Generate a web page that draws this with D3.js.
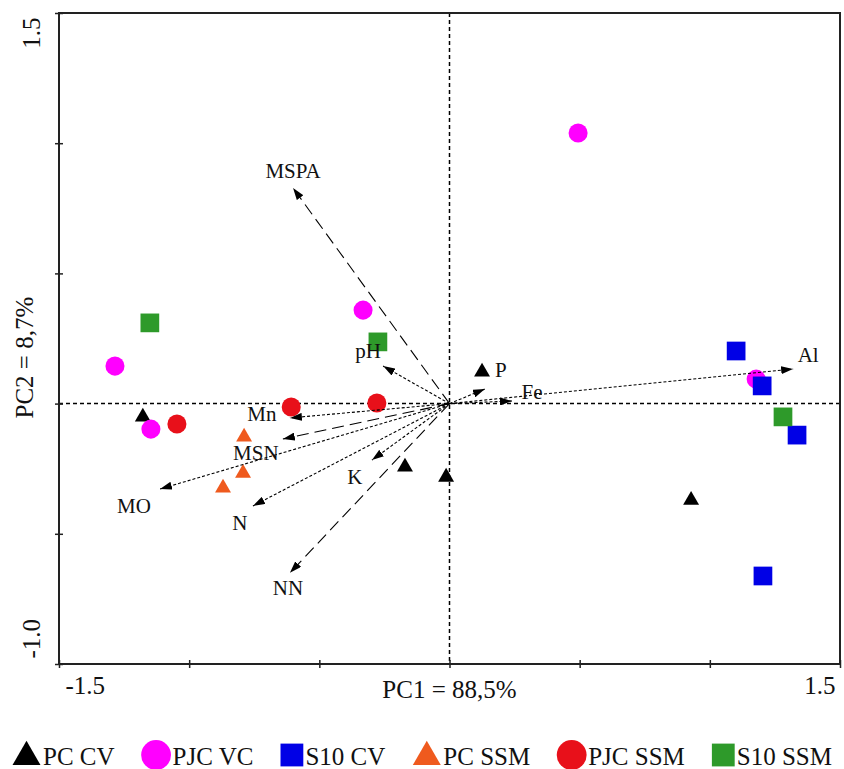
<!DOCTYPE html>
<html>
<head>
<meta charset="utf-8">
<script src="https://cdn.jsdelivr.net/npm/d3@7"></script>
<style>
  body { margin: 0; background: #fff; }
  text { font-family: "Liberation Serif", "Times New Roman", serif; fill: #111; }
</style>
</head>
<body>
<div class="layout"></div>
<script>
// PCA scores per group [PC1, PC2]
var groups = ["PC CV", "PJC VC", "S10 CV", "PC SSM", "PJC SSM", "S10 SSM"];
var pcCV   = [[-1.178, -0.051], [-0.171, -0.243], [-0.013, -0.282], [0.928, -0.371], [0.125, 0.122]];
var pjcVC  = [[0.494, 1.039], [-0.332, 0.359], [-1.285, 0.144], [-1.147, -0.098], [1.178, 0.094]];
var s10CV  = [[1.101, 0.202], [1.201, 0.068], [1.335, -0.121], [1.204, -0.662]];
var pcSSM  = [[-0.789, -0.128], [-0.793, -0.267], [-0.870, -0.324]];
var pjcSSM = [[-0.608, -0.013], [-0.279, 0.002], [-1.047, -0.078]];
var s10SSM = [[-1.151, 0.310], [-0.275, 0.237], [1.281, -0.051]];
var scores = [pcCV, pjcVC, s10CV, pcSSM, pjcSSM, s10SSM];

// variable loadings (arrows)
var variables = ["MSPA", "pH", "Mn", "MSN", "MO", "N", "K", "NN", "P", "Fe", "Al"];
var loadPC1 = [-0.601, -0.255, -0.613, -0.640, -1.112, -0.755, -0.298, -0.613, 0.136, 0.240, 1.320];
var loadPC2 = [0.828, 0.144, -0.055, -0.136, -0.328, -0.393, -0.217, -0.650, 0.056, 0.010, 0.133];

var xTicks = [-1.5, -1, -0.5, 0, 0.5, 1, 1.5];
var yTicks = [-1, -0.5, 0, 0.5, 1, 1.5];
var xTickLabels = ["-1.5", "", "", "", "", "", "1.5"];
var yTickLabels = ["-1.0", "", "", "", "", "1.5"];

var margin = {top: 13, right: 4, bottom: 105, left: 59},
    width = 844 - margin.left - margin.right,
    height = 769 - margin.top - margin.bottom;

// styles
var groupStyle = [
  {shape: d3.symbolTriangle, color: "#000000", size: 110},
  {shape: d3.symbolCircle,   color: "#ff00ff", size: 285},
  {shape: d3.symbolSquare,   color: "#0000e6", size: 350},
  {shape: d3.symbolTriangle, color: "#ef5a1e", size: 110},
  {shape: d3.symbolCircle,   color: "#e8101a", size: 285},
  {shape: d3.symbolSquare,   color: "#2e9a2a", size: 350}
];
var legendSize = [340, 700, 520, 340, 700, 520];
var longDash = {MSPA: true, MSN: true, NN: true};
var labelOffset = {
  MSPA: [0, -10], pH: [-15, -8], Mn: [-28, 3], MSN: [-27, 21], MO: [-26, 24],
  N: [-13, 24], K: [-17, 24], NN: [-2, 22], P: [16, -12], Fe: [20, -2], Al: [15, -7]
};

var x = d3.scaleLinear().domain([-1.5, 1.5]).range([0, width]);
var y = d3.scaleLinear().domain([-1, 1.5]).range([height, 0]);

var svg = d3.select(".layout").append("svg")
    .attr("width", 844)
    .attr("height", 769);

svg.append("defs").append("marker")
    .attr("id", "head")
    .attr("markerUnits", "userSpaceOnUse")
    .attr("markerWidth", 12).attr("markerHeight", 8)
    .attr("refX", 12).attr("refY", 4)
    .attr("orient", "auto")
    .append("path")
    .attr("d", "M0,0 L12,4 L0,8 Z")
    .attr("fill", "#000");

var g = svg.append("g")
    .attr("transform", "translate(" + margin.left + "," + margin.top + ")");

// zero lines
g.append("line")
    .attr("x1", x(0)).attr("x2", x(0)).attr("y1", 0).attr("y2", height)
    .attr("stroke", "#000").attr("stroke-width", 1.5).attr("stroke-dasharray", "4,3");
g.append("line")
    .attr("x1", 0).attr("x2", width).attr("y1", y(0)).attr("y2", y(0))
    .attr("stroke", "#000").attr("stroke-width", 1.5).attr("stroke-dasharray", "4,3");

// frame
g.append("rect")
    .attr("width", width).attr("height", height)
    .attr("fill", "none").attr("stroke", "#222").attr("stroke-width", 2);

var xAxis = g.append("g")
    .attr("transform", "translate(0," + height + ")")
    .call(d3.axisBottom(x).tickValues(xTicks).tickSize(4)
        .tickFormat(function(d, i) { return xTickLabels[i]; }));
xAxis.select(".domain").remove();
xAxis.selectAll(".tick line").attr("y1", -4).attr("stroke", "#222").attr("stroke-width", 1.5);
xAxis.selectAll(".tick text")
    .style("font-size", "25px").attr("fill", "#111").attr("y", 12).attr("dy", "0.71em")
    .attr("text-anchor", function(d) { return d < 0 ? "start" : "end"; })
    .attr("dx", function(d) { return d < 0 ? 6 : -5; });

var yAxis = g.append("g")
    .call(d3.axisLeft(y).tickValues(yTicks).tickSize(4)
        .tickFormat(function(d, i) { return yTickLabels[i]; }));
yAxis.select(".domain").remove();
yAxis.selectAll(".tick line").attr("x1", 4).attr("x2", -4).attr("stroke", "#222").attr("stroke-width", 1.5);
yAxis.selectAll(".tick text")
    .style("font-size", "25px").attr("fill", "#111")
    .attr("dy", null)
    .attr("transform", "translate(-19,0) rotate(-90)")
    .attr("text-anchor", function(d) { return d > 0 ? "end" : "start"; })
    .attr("x", function(d) { return d > 0 ? -4 : 6; });

// axis titles
g.append("text")
    .attr("x", x(0)).attr("y", height + 34)
    .attr("text-anchor", "middle")
    .style("font-size", "25px")
    .text("PC1 = 88,5%");

g.append("text")
    .attr("transform", "translate(-26," + (y(0) - 46) + ") rotate(-90)")
    .attr("text-anchor", "middle")
    .style("font-size", "25px")
    .text("PC2 = 8,7%");

// points
scores.forEach(function(pts, i) {
  var st = groupStyle[i];
  g.append("g").selectAll("path")
      .data(pts)
      .enter().append("path")
      .attr("d", d3.symbol().type(st.shape).size(st.size))
      .attr("transform", function(d) { return "translate(" + x(d[0]) + "," + y(d[1]) + ")"; })
      .attr("fill", st.color);
});

// arrows
var arrows = variables.map(function(v, i) { return {name: v, pc1: loadPC1[i], pc2: loadPC2[i]}; });

g.append("g").selectAll("line")
    .data(arrows)
    .enter().append("line")
    .attr("x1", x(0)).attr("y1", y(0))
    .attr("x2", function(d) { return x(d.pc1); })
    .attr("y2", function(d) { return y(d.pc2); })
    .attr("stroke", "#000")
    .attr("stroke-width", 1.1)
    .attr("stroke-dasharray", function(d) { return longDash[d.name] ? "12,6" : "3,2"; })
    .attr("marker-end", "url(#head)");

g.append("g").selectAll("text")
    .data(arrows)
    .enter().append("text")
    .attr("x", function(d) { return x(d.pc1) + labelOffset[d.name][0]; })
    .attr("y", function(d) { return y(d.pc2) + labelOffset[d.name][1]; })
    .attr("text-anchor", "middle")
    .style("font-size", "21px")
    .text(function(d) { return d.name; });

// legend
var legend = svg.append("g").attr("transform", "translate(0,755)");
var cursor = 12;
groups.forEach(function(name, i) {
  var st = groupStyle[i];
  var w = st.shape === d3.symbolSquare ? 23 : 29;
  legend.append("path")
      .attr("d", d3.symbol().type(st.shape).size(legendSize[i]))
      .attr("transform", "translate(" + (cursor + w / 2) + "," + (st.shape === d3.symbolTriangle ? 2 : 0) + ")")
      .attr("fill", st.color);
  var t = legend.append("text")
      .attr("x", cursor + w + 2)
      .attr("y", 10)
      .style("font-size", "25px")
      .text(name);
  cursor = cursor + w + 2 + t.node().getComputedTextLength() + 27;
});
</script>
</body>
</html>
